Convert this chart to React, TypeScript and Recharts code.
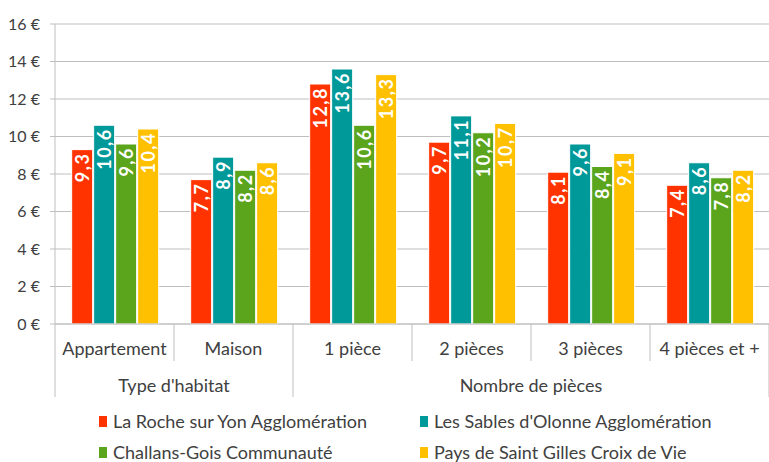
import { BarChart, Bar, XAxis, YAxis, CartesianGrid, LabelList } from "recharts"

const categories = ["Appartement", "Maison", "1 pièce", "2 pièces", "3 pièces", "4 pièces et +"]
const groupNames = ["Type d'habitat", "Nombre de pièces"]
const categoryGroup = [0, 0, 1, 1, 1, 1]

const seriesNames = [
  "La Roche sur Yon Agglomération",
  "Les Sables d'Olonne Agglomération",
  "Challans-Gois Communauté",
  "Pays de Saint Gilles Croix de Vie",
]
const seriesColors = ["#ff3300", "#009999", "#5aa51c", "#ffc000"]

const laRoche = [9.3, 7.7, 12.8, 9.7, 8.1, 7.4]
const lesSables = [10.6, 8.9, 13.6, 11.1, 9.6, 8.6]
const challans = [9.6, 8.2, 10.6, 10.2, 8.4, 7.8]
const stGilles = [10.4, 8.6, 13.3, 10.7, 9.1, 8.2]

const yTicks = [0, 2, 4, 6, 8, 10, 12, 14, 16]

const seriesValues = [laRoche, lesSables, challans, stGilles]
const keys = ["s0", "s1", "s2", "s3"]

const data = categories.map((name, i) => {
  const row: Record<string, string | number> = { name }
  seriesValues.forEach((vals, s) => {
    row[keys[s]] = vals[i]
  })
  return row
})

const W = 769
const H = 462
const Y_WIDTH = 55
const FONT = "Lato, 'Open Sans', sans-serif"
const TEXT = "#404040"
const LINE = "#bfbfbf"
const HALF_BAND = (W - Y_WIDTH) / categories.length / 2

function CategoryTick(props: any) {
  const { x, y, payload } = props
  const index = payload?.index ?? props.index
  const half = payload?.offset > 0 ? payload.offset : HALF_BAND
  const grp = categoryGroup[index]
  const groupStart = index === 0 || categoryGroup[index - 1] !== grp
  const count = categoryGroup.filter((g) => g === grp).length
  const isLast = index === categories.length - 1
  return (
    <g>
      <line x1={x - half} x2={x - half} y1={y} y2={y + (groupStart ? 73 : 37)} stroke={LINE} />
      {isLast && <line x1={x + half} x2={x + half} y1={y} y2={y + 73} stroke={LINE} />}
      <text x={x} y={y + 31} textAnchor="middle" fill={TEXT} fontSize={18} fontFamily={FONT}>
        {categories[index]}
      </text>
      {groupStart && (
        <text x={x - half + count * half} y={y + 68} textAnchor="middle" fill={TEXT} fontSize={18} fontFamily={FONT}>
          {groupNames[grp]}
        </text>
      )}
    </g>
  )
}

function BarLabel(props: any) {
  const { x, y, width, value } = props
  const cx = x + width / 2
  const ty = y + 3
  return (
    <text
      x={cx}
      y={ty}
      transform={`rotate(-90 ${cx} ${ty})`}
      textAnchor="end"
      dominantBaseline="central"
      fill="#fff"
      fontWeight="bold"
      fontSize={18}
      letterSpacing={1.5}
      fontFamily={FONT}
    >
      {Number(value).toFixed(1).replace(".", ",")}
    </text>
  )
}

export default function App() {
  return (
    <div style={{ position: "absolute", left: 0, top: 0, width: W, height: H, background: "#fff", overflow: "hidden" }}>
      <BarChart
        width={W}
        height={H}
        data={data}
        margin={{ top: 24, right: 0, bottom: 0, left: 0 }}
        barCategoryGap="14%"
        barGap={1}
      >
        <CartesianGrid vertical={false} stroke={LINE} />
        <XAxis
          dataKey="name"
          height={138}
          tickLine={false}
          tickSize={0}
          tickMargin={0}
          axisLine={{ stroke: LINE }}
          tick={<CategoryTick />}
          interval={0}
        />
        <YAxis
          width={Y_WIDTH}
          domain={[0, 16]}
          ticks={yTicks}
          tickSize={5}
          tickMargin={10}
          axisLine={{ stroke: LINE }}
          tickLine={{ stroke: LINE }}
          tickFormatter={(v) => `${v} €`}
          tick={{ fill: TEXT, fontSize: 16, fontFamily: FONT }}
        />
        {keys.map((k, s) => (
          <Bar key={k} dataKey={k} name={seriesNames[s]} fill={seriesColors[s]} stroke="#fff" strokeWidth={1} isAnimationActive={false}>
            <LabelList dataKey={k} content={<BarLabel />} />
          </Bar>
        ))}
      </BarChart>
      <div
        style={{
          position: "absolute",
          left: 99,
          top: 410,
          display: "grid",
          gridTemplateColumns: "321px 330px",
          rowGap: 9,
          fontFamily: FONT,
          fontSize: 18,
          lineHeight: "22px",
          color: TEXT,
        }}
      >
        {seriesNames.map((n, s) => (
          <div key={n} style={{ display: "flex", alignItems: "center", height: 22, whiteSpace: "nowrap" }}>
            <span style={{ display: "inline-block", width: 8, height: 11, background: seriesColors[s], marginRight: 6 }} />
            {n}
          </div>
        ))}
      </div>
    </div>
  )
}
